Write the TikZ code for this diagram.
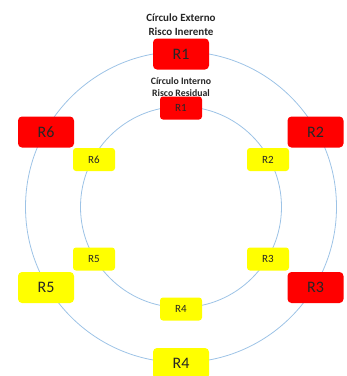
\documentclass[tikz,border=0pt]{standalone}
\usepackage{fontspec}
\setmainfont{Carlito}
\definecolor{ringblue}{RGB}{157,195,230}
\definecolor{boxred}{RGB}{255,0,0}
\definecolor{boxyellow}{RGB}{255,255,0}
\begin{document}
\begin{tikzpicture}[x=1pt,y=1pt,
  ring/.style={draw=ringblue,line width=0.8pt},
  outerbox/.style={rounded corners=4pt,minimum width=56pt,minimum height=31pt,inner sep=0pt,font=\fontsize{16}{18}\selectfont,text=black!85},
  innerbox/.style={rounded corners=3pt,minimum width=42pt,minimum height=23pt,inner sep=0pt,font=\fontsize{11}{13}\selectfont,text=black!85},
  hot/.style={fill=boxred},
  warm/.style={fill=boxyellow},
  titletext/.style={align=center,font=\bfseries\fontsize{11}{14}\selectfont,text=black!85},
  subtitletext/.style={align=center,font=\bfseries\fontsize{9.8}{12}\selectfont,text=black!85}]
\useasboundingbox (0,0) rectangle (347,-376);
\coordinate (c) at (181,-207);
\draw[ring] (c) circle[radius=155.5];
\draw[ring] (c) circle[radius=100.5];
% outer boxes
\node[outerbox,hot]  (o1) at (181,-54) {R1};
\node[outerbox,hot]  (o2) at (315.5,-132) {R2};
\node[outerbox,hot]  (o3) at (315.5,-287.5) {R3};
\node[outerbox,warm] (o4) at (181,-363.5) {R4};
\node[outerbox,warm] (o5) at (46,-287.5) {R5};
\node[outerbox,hot]  (o6) at (46,-132) {R6};
% inner boxes
\node[innerbox,hot]  (i1) at (181,-108) {R1};
\node[innerbox,warm] (i2) at (268,-159.5) {R2};
\node[innerbox,warm] (i3) at (268,-259) {R3};
\node[innerbox,warm] (i4) at (181,-309) {R4};
\node[innerbox,warm] (i5) at (94,-259) {R5};
\node[innerbox,warm] (i6) at (94,-159.5) {R6};
% titles
\node[titletext] (t1) at (181,-25) {Círculo Externo\\Risco Inerente};
\node[subtitletext] (t2) at (181,-87) {Círculo Interno\\Risco Residual};
\end{tikzpicture}
\end{document}
